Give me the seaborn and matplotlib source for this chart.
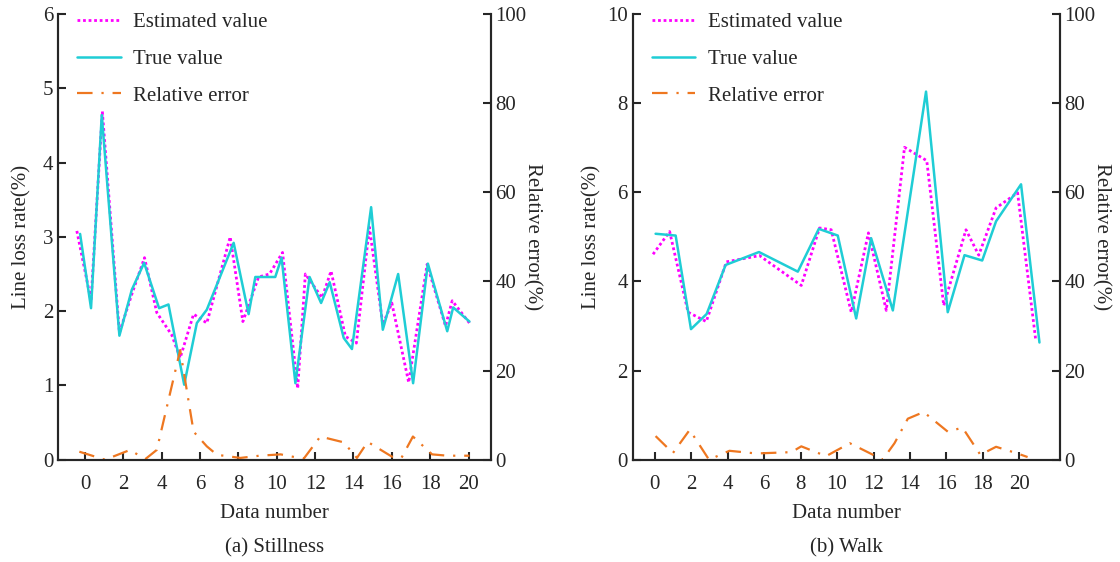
import matplotlib
matplotlib.use("Agg")
import matplotlib.pyplot as plt
import seaborn as sns

# (a) Stillness
still_true_x = [-0.26, 0.31, 0.87, 1.79, 2.44, 3.08, 3.86, 4.35, 5.17, 5.83, 6.35, 7.75, 8.53, 8.88,
                9.92, 10.25, 10.97, 11.71, 12.31, 12.76, 13.49, 13.92, 14.92, 15.53, 16.33, 17.11,
                17.88, 18.89, 19.2, 20.05]
still_true_y = [3.04, 2.04, 4.64, 1.67, 2.29, 2.65, 2.04, 2.09, 1.01, 1.84, 2.02, 2.92, 1.96, 2.46,
                2.46, 2.72, 1.03, 2.46, 2.11, 2.39, 1.64, 1.49, 3.40, 1.75, 2.50, 1.03,
                2.64, 1.73, 2.05, 1.86]
still_est_x = [-0.43, 0.31, 0.9, 1.79, 2.44, 3.1, 3.74, 4.52, 4.96, 5.66, 6.35, 7.57, 8.23, 9.05,
               9.62, 10.3, 11.09, 11.49, 12.36, 12.83, 13.58, 14.15, 14.83, 15.53, 16.0, 16.88,
               17.84, 18.8, 19.15, 20.05]
still_est_y = [3.08, 2.14, 4.69, 1.71, 2.23, 2.72, 1.98, 1.68, 1.37, 1.96, 1.84, 3.0, 1.86, 2.46,
               2.50, 2.79, 0.96, 2.50, 2.18, 2.54, 1.66, 1.57, 3.13, 1.82, 2.11, 1.04,
               2.63, 1.80, 2.14, 1.84]
still_err_x = [-0.3, 1.04, 2.35, 3.13, 3.74, 4.96, 5.66, 6.35, 6.88, 8.1, 9.1, 10.2, 11.4, 12.27,
               13.49, 14.18, 14.74, 16.0, 16.5, 17.1, 18.1, 18.9, 20.05]
still_err_y = [1.8, 0.0, 2.2, 0.1, 2.2, 24.6, 6.3, 3.0, 1.1, 0.4, 0.9, 1.2, 0.2, 5.2,
               3.9, 0.4, 4.0, 0.7, 0.4, 5.2, 1.2, 0.9, 0.9]

# (b) Walk
walk_true_x = [0.05, 1.15, 1.99, 2.85, 3.89, 5.72, 7.85, 9.0, 10.04, 11.05, 11.87, 13.06, 14.88,
               16.07, 16.99, 17.96, 18.72, 20.09, 21.1]
walk_true_y = [5.07, 5.03, 2.93, 3.27, 4.37, 4.66, 4.22, 5.18, 5.03, 3.17, 4.97, 3.35, 8.26,
               3.31, 4.59, 4.47, 5.35, 6.18, 2.63]
walk_est_x = [-0.09, 0.82, 1.83, 2.83, 3.93, 5.75, 8.04, 9.04, 9.68, 10.78, 11.72, 12.7, 13.7,
              14.92, 15.85, 17.07, 17.77, 18.72, 19.9, 20.9]
walk_est_y = [4.61, 5.12, 3.31, 3.10, 4.44, 4.58, 3.91, 5.20, 5.16, 3.31, 5.09, 3.35, 7.01,
              6.71, 3.46, 5.16, 4.59, 5.65, 5.99, 2.67]
walk_err_x = [0.05, 1.0, 1.92, 2.98, 4.1, 5.57, 7.5, 8.04, 9.4, 10.7, 11.78, 12.5, 13.15, 13.88,
              14.75, 16.07, 16.88, 17.86, 18.72, 19.82, 20.45]
walk_err_y = [5.3, 1.5, 6.7, 0.0, 2.0, 1.4, 1.7, 3.0, 0.8, 3.7, 1.5, 0.0, 3.7, 9.2,
              10.7, 6.3, 7.2, 1.1, 2.9, 1.5, 0.6]

panels = [
    ("(a) Stillness", still_est_x, still_est_y, still_true_x, still_true_y, still_err_x, still_err_y,
     6, range(0, 7), (-1.4, 21.15), 8),
    ("(b) Walk", walk_est_x, walk_est_y, walk_true_x, walk_true_y, walk_err_x, walk_err_y,
     10, range(0, 11, 2), (-1.2, 22.2), 4),
]

sns.set_style("ticks")
plt.rcParams['font.family'] = ['Liberation Serif', 'DejaVu Serif']
plt.rcParams['font.size'] = 15
plt.rcParams['xtick.direction'] = 'in'
plt.rcParams['ytick.direction'] = 'in'

c_est = "#FF00FF"
c_true = "#1FCDD5"
c_err = "#EE7720"

fig = plt.figure(figsize=(11.2, 5.62), dpi=100)
boxes = [[0.052, 0.182, 0.386, 0.793], [0.565, 0.182, 0.381, 0.793]]

for box, (title, ex, ey, tx, ty, rx, ry, ymax, yticks, xlim, ypad) in zip(boxes, panels):
    ax = fig.add_axes(box)
    ax2 = ax.twinx()
    sns.lineplot(x=ex, y=ey, ax=ax, color=c_est, linestyle=(0, (1, 1)), linewidth=2,
                 sort=False, estimator=None, label="Estimated value")
    sns.lineplot(x=tx, y=ty, ax=ax, color=c_true, linewidth=1.8,
                 sort=False, estimator=None, label="True value")
    sns.lineplot(x=rx, y=ry, ax=ax2, color=c_err, linestyle=(0, (7, 4, 1, 4)), linewidth=1.6,
                 sort=False, estimator=None, label="Relative error")

    ax.set_xlim(*xlim)
    ax.set_ylim(0, ymax)
    ax.set_yticks(list(yticks))
    ax.set_xticks(range(0, 21, 2))
    ax2.set_ylim(0, 100)
    ax2.set_yticks(range(0, 101, 20))

    for a in (ax, ax2):
        a.spines['top'].set_visible(False)
        for s in a.spines.values():
            s.set_linewidth(1.5)
        a.tick_params(width=1.5, length=6, labelsize=15)
    ax.tick_params(axis='x', pad=11)

    ax.set_xlabel("Data number", fontsize=15, labelpad=7)
    ax.set_ylabel("Line loss rate(%)", fontsize=15, labelpad=ypad)
    ax2.set_ylabel("Relative error(%)", fontsize=15, rotation=270, labelpad=11)
    ax.text(0.5, -0.198, title, transform=ax.transAxes, ha='center', va='center', fontsize=15)

    h1, l1 = ax.get_legend_handles_labels()
    h2, l2 = ax2.get_legend_handles_labels()
    ax2.get_legend().remove()
    ax.legend(h1 + h2, l1 + l2, loc='upper left', bbox_to_anchor=(0.0, 1.045), frameon=False,
              handlelength=2.1, handletextpad=0.6, labelspacing=0.82, fontsize=15)

fig.savefig("out.png", dpi=100)
